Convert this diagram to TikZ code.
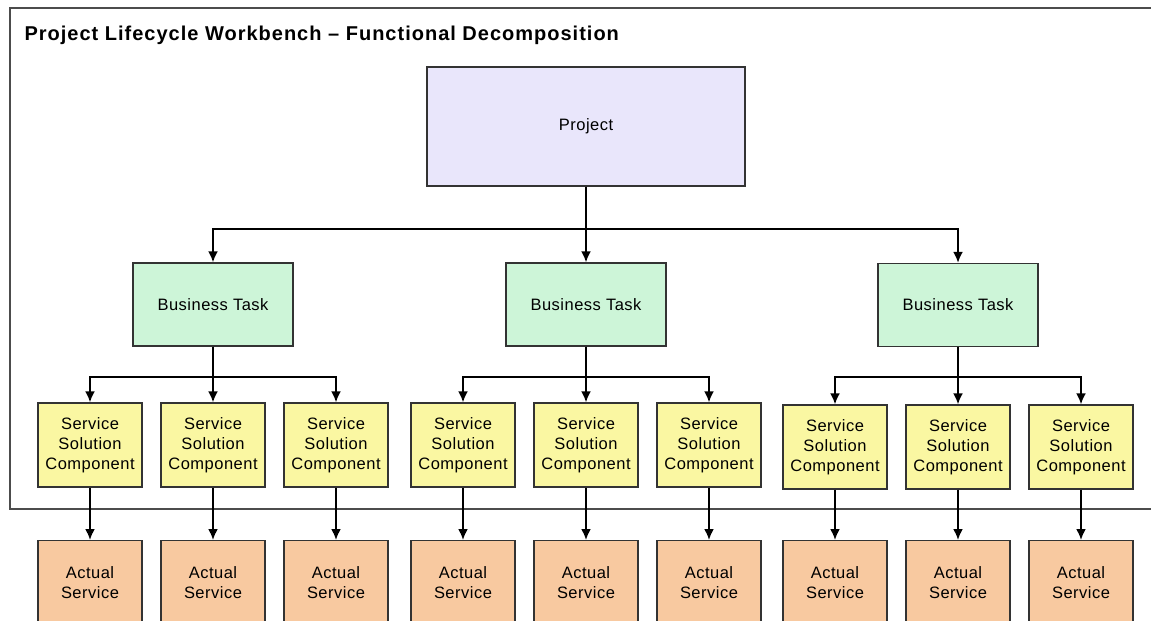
\documentclass[tikz,border=0pt]{standalone}
\usepackage{fontspec}
\setmainfont{Liberation Sans}
\newfontfamily\titlefont[LetterSpace=5]{Liberation Sans}
\newfontfamily\boxfont[LetterSpace=3]{Liberation Sans}
\usepackage{tikz}
\usetikzlibrary{arrows.meta}
\usetikzlibrary{positioning}
\tikzset{>={Latex[length=11pt,width=10pt]}}

\definecolor{projfill}{HTML}{E9E6FB}
\definecolor{taskfill}{HTML}{CDF5D8}
\definecolor{sscfill}{HTML}{FAF7A2}
\definecolor{actfill}{HTML}{F8C9A0}

\begin{document}
\begin{tikzpicture}[x=1pt,y=-1pt,
  box/.style={draw=black!80,line width=1.3pt,rectangle,inner sep=0pt,align=center,
              font=\boxfont\fontsize{16.5}{20}\selectfont},
  proj/.style={box,fill=projfill,minimum width=318pt,minimum height=119pt},
  task/.style={box,fill=taskfill,minimum width=160pt,minimum height=83pt},
  ssc/.style={box,fill=sscfill,minimum width=104pt,minimum height=84pt},
  actual/.style={box,fill=actfill,minimum width=104pt,minimum height=84pt,anchor=north},
  link/.style={->,line width=2pt,black}]

\useasboundingbox (0,0) rectangle (1151,621);

% outer frame, right edge runs off the page
\draw [black!70,line width=1.5pt] (1170,8) -- (10,8) -- (10,509) -- (1170,509);
\node (title) [anchor=west,font=\titlefont\bfseries\fontsize{20}{23}\selectfont] at (21,35)
      {Project Lifecycle Workbench \textendash{} Functional Decomposition};

\node (project) [proj] at (586,126.5) {Project};

\node (task1) [task] at (213,304.5) {Business Task};
\node (task2) [task] at (586,304.5) {Business Task};
\node (task3) [task] at (958,305) {Business Task};

\foreach \t in {task1,task2,task3} \draw [link] (project.south) -- ++(0,42) -| (\t.north);

\foreach \g/\gx/\gy in {1/213/445, 2/586/445, 3/958/447} {
  \foreach \i/\dx in {1/-123, 2/0, 3/123} {
    \node (ssc\g\i) [ssc] at (\gx+\dx,\gy) {Service\\Solution\\Component};
    \node (act\g\i) [actual] at (\gx+\dx,540) {Actual\\Service};
    \draw [link] (task\g.south) -- ++(0,30) -| (ssc\g\i.north);
    \draw [link] (ssc\g\i.south) -- (act\g\i.north);
  }
}

\end{tikzpicture}
\end{document}
